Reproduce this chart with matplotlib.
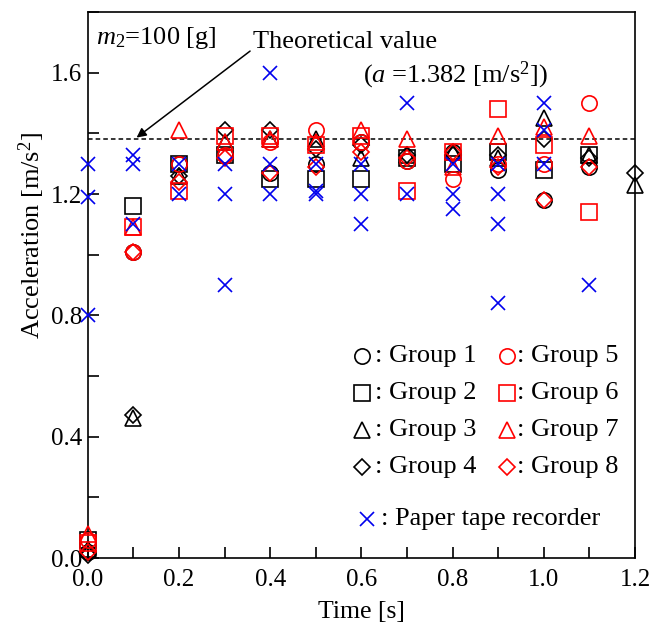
import numpy as np
import matplotlib
matplotlib.use('Agg')
import matplotlib.pyplot as plt
from matplotlib.ticker import MultipleLocator, FormatStrFormatter

plt.rcParams['font.family'] = ['Liberation Serif', 'DejaVu Serif']
plt.rcParams['mathtext.fontset'] = 'custom'
plt.rcParams['mathtext.rm'] = 'Liberation Serif'
plt.rcParams['mathtext.it'] = 'Liberation Serif:italic'

# time steps [s]
time = [0.0, 0.1, 0.2, 0.3, 0.4, 0.5, 0.6, 0.7, 0.8, 0.9, 1.0, 1.1, 1.2]

# measured acceleration per group [m/s^2]
group1 = [0.02, 1.01, 1.30, 1.33, 1.27, 1.30, 1.37, 1.31, 1.34, 1.28, 1.18, 1.29]
group2 = [0.06, 1.16, 1.30, 1.33, 1.25, 1.25, 1.25, 1.32, 1.30, 1.34, 1.28, 1.33]
group3 = [0.03, 0.46, 1.26, 1.37, 1.38, 1.38, 1.32, 1.33, 1.34, 1.32, 1.45, 1.33, 1.23]
group4 = [0.01, 0.47, 1.26, 1.41, 1.41, 1.35, 1.36, 1.33, 1.33, 1.33, 1.38, 1.32, 1.27]
group5 = [0.06, 1.01, 1.30, 1.33, 1.37, 1.41, 1.37, 1.31, 1.25, 1.30, 1.30, 1.50]
group6 = [0.05, 1.09, 1.21, 1.39, 1.39, 1.36, 1.39, 1.21, 1.34, 1.48, 1.36, 1.14]
group7 = [0.08, 1.09, 1.41, 1.37, 1.38, 1.37, 1.41, 1.38, 1.29, 1.39, 1.42, 1.39]
group8 = [0.02, 1.01, 1.24, 1.32, 1.27, 1.29, 1.34, 1.32, 1.34, 1.29, 1.18, 1.29]

# paper tape recorder readings
tape_t = [0.0, 0.0, 0.0, 0.1, 0.1, 0.1, 0.2, 0.2, 0.3, 0.3, 0.3,
          0.4, 0.4, 0.4, 0.5, 0.5, 0.5, 0.6, 0.6, 0.6, 0.7, 0.7,
          0.8, 0.8, 0.8, 0.9, 0.9, 0.9, 0.9, 1.0, 1.0, 1.0, 1.1]
tape_a = [1.30, 1.19, 0.80, 1.33, 1.30, 1.10, 1.30, 1.20, 1.30, 1.20, 0.90,
          1.60, 1.30, 1.20, 1.30, 1.21, 1.20, 1.30, 1.20, 1.10, 1.50, 1.20,
          1.30, 1.20, 1.15, 1.30, 1.20, 1.10, 0.84, 1.50, 1.41, 1.30, 0.90]

theory = 1.382

groups = [group1, group2, group3, group4, group5, group6, group7, group8]
markers = ['o', 's', '^', 'D', 'o', 's', '^', 'D']
colors = ['black'] * 4 + ['red'] * 4
sizes = [11, 11, 11, 8, 11, 11, 11, 8]
FS = 19

fig = plt.figure(figsize=(6.55, 6.23), dpi=100)
ax = fig.add_axes([0.134, 0.1043, 0.8355, 0.8764])

ax.axhline(theory, color='black', linestyle=(0, (3, 2)), linewidth=1.1)

for vals, m, c, s in zip(groups, markers, colors, sizes):
    ax.plot(time[:len(vals)], vals, linestyle='none', marker=m, ms=s,
            mfc='none', mec=c, mew=1.2, clip_on=False, zorder=3)

ax.plot(tape_t, tape_a, linestyle='none', marker='x', ms=10, mec='#0000ee',
        mew=1.2, clip_on=False, zorder=4)

ax.set_xlim(0, 1.2)
ax.set_ylim(0, 1.8)
ax.xaxis.set_major_locator(MultipleLocator(0.2))
ax.xaxis.set_minor_locator(MultipleLocator(0.1))
ax.yaxis.set_major_locator(MultipleLocator(0.4))
ax.yaxis.set_minor_locator(MultipleLocator(0.2))
ax.xaxis.set_major_formatter(FormatStrFormatter('%.1f'))
ax.yaxis.set_major_formatter(FormatStrFormatter('%.1f'))
ax.tick_params(which='both', direction='in', top=False, right=False,
               labelsize=18, width=1.2, length=8)
ax.tick_params(axis='x', which='major', pad=8)
ax.tick_params(axis='y', which='major', pad=4)
for sp in ax.spines.values():
    sp.set_linewidth(1.2)

ax.set_xlabel('Time [s]', fontsize=18.5, labelpad=7)
ax.set_ylabel('Acceleration [m/s$^2$]', fontsize=19)
ax.yaxis.set_label_coords(-0.074, 0.59)

ax.text(0.018, 1.715, '$m_2$=100 [g]', fontsize=FS, va='center', ha='left')
ax.annotate('Theoretical value', xy=(0.107, 1.386), xytext=(0.362, 1.70),
            fontsize=FS, va='center', ha='left',
            arrowprops=dict(arrowstyle='-|>', color='black', lw=1.1,
                            mutation_scale=14, shrinkA=0, shrinkB=0,
                            relpos=(0, 0.2)))
ax.text(0.603, 1.59, '($a$ =1.382 [m/s$^2$])', fontsize=FS, va='center', ha='left')

# legend built by hand
leg_rows = [0.370, 0.302, 0.234, 0.167]
for i in range(4):
    for col, (mx, tx) in enumerate([(0.501, 0.524), (0.766, 0.784)]):
        k = i + 4 * col
        ax.plot([mx], [leg_rows[i]], transform=ax.transAxes, linestyle='none',
                marker=markers[k], ms=sizes[k], mfc='none', mec=colors[k], mew=1.2)
        ax.text(tx, leg_rows[i], ': Group %d' % (k + 1), transform=ax.transAxes,
                fontsize=FS, va='center', ha='left')
ax.plot([0.510], [0.071], transform=ax.transAxes, linestyle='none', marker='x',
        ms=10, mec='#0000ee', mew=1.2)
ax.text(0.535, 0.071, ': Paper tape recorder', transform=ax.transAxes,
        fontsize=FS, va='center', ha='left')

fig.savefig('out.png', dpi=100)
